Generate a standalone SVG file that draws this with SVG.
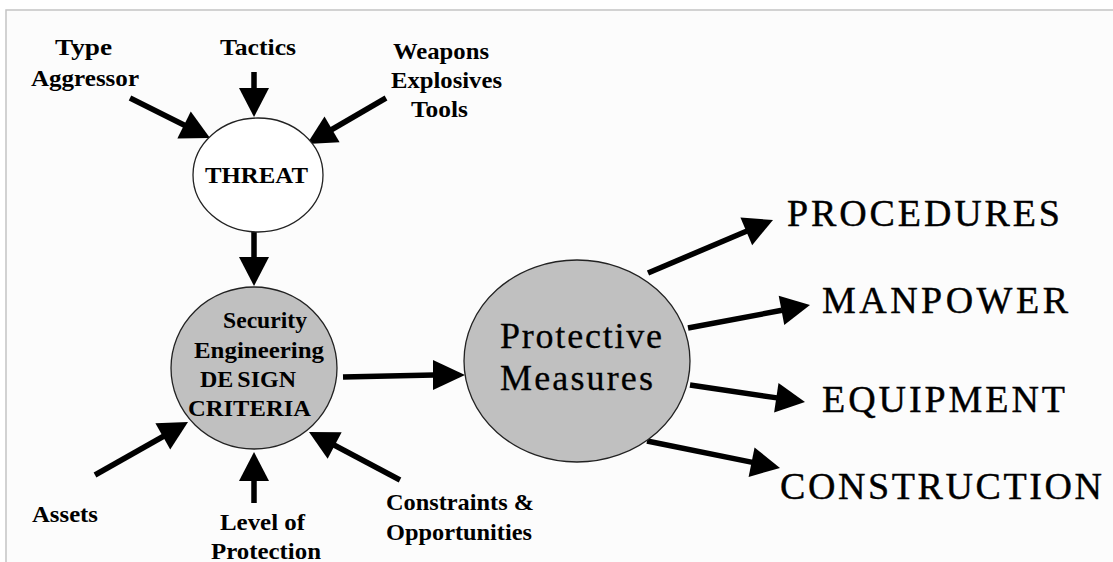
<svg xmlns="http://www.w3.org/2000/svg" width="1113" height="562" viewBox="0 0 1113 562">
<style>
.lbl{font-family:"Liberation Serif","Times New Roman",serif;font-weight:bold;font-size:24px;fill:#000}
.big{font-family:"Liberation Serif","Times New Roman",serif;font-size:38px;fill:#000;stroke:#000;stroke-width:0.4}
.pm{font-family:"Liberation Serif","Times New Roman",serif;font-size:36px;fill:#000;stroke:#000;stroke-width:0.3}
.node{stroke:#222;stroke-width:1.3}
.gray{fill:#c0c0c0}
.white{fill:#fff}
.shaft{stroke:#000;stroke-width:5.5;fill:none}
.head{fill:#000}
</style>
<rect x="0" y="0" width="1113" height="562" fill="#fff"/>
<rect x="6" y="10" width="1107" height="552" fill="#fcfcfc"/>
<path d="M6,562 V10 H1113" fill="none" stroke="#c4c4c4" stroke-width="1.5"/>

<g id="connectors">
  <line class="shaft" x1="130" y1="98" x2="185" y2="125.5"/>
  <polygon class="head" points="210,138 177.35,138.45 190.77,111.61"/>
  <line class="shaft" x1="254" y1="72" x2="254" y2="89"/>
  <polygon class="head" points="254,117 239,88 269,88"/>
  <line class="shaft" x1="386" y1="98" x2="331" y2="130"/>
  <polygon class="head" points="307,144 324.51,116.45 339.61,142.37"/>
  <line class="shaft" x1="254" y1="232" x2="254" y2="258"/>
  <polygon class="head" points="254,286 239,257 269,257"/>
  <line class="shaft" x1="343" y1="377" x2="434" y2="375"/>
  <polygon class="head" points="465,375 433,360 433,390"/>
  <line class="shaft" x1="95" y1="475" x2="164" y2="436"/>
  <polygon class="head" points="188,422 170.23,449.39 155.37,423.33"/>
  <line class="shaft" x1="254" y1="503" x2="254" y2="480"/>
  <polygon class="head" points="254,452 239,481 269,481"/>
  <line class="shaft" x1="400" y1="480" x2="334" y2="445"/>
  <polygon class="head" points="309,432 341.65,432.26 327.65,458.8"/>
  <line class="shaft" x1="648" y1="273" x2="747" y2="231"/>
  <polygon class="head" points="773,220 752.16,245.13 740.44,217.51"/>
  <line class="shaft" x1="688" y1="328" x2="782" y2="310.3"/>
  <polygon class="head" points="810,305 784.28,325.11 778.72,295.63"/>
  <line class="shaft" x1="690" y1="385" x2="777" y2="397.9"/>
  <polygon class="head" points="805,402 774.12,412.6 778.5,382.92"/>
  <line class="shaft" x1="647" y1="441" x2="752.5" y2="462.4"/>
  <polygon class="head" points="780,468 748.59,476.93 754.57,447.53"/>
</g>

<g id="threat">
  <ellipse class="node white" cx="258" cy="175" rx="65" ry="57"/>
  <text class="lbl" x="205" y="183" textLength="103" lengthAdjust="spacingAndGlyphs">THREAT</text>
</g>

<g id="design-criteria">
  <ellipse class="node gray" cx="254" cy="368" rx="83" ry="81"/>
  <text class="lbl" x="223" y="328" textLength="84" lengthAdjust="spacingAndGlyphs">Security</text>
  <text class="lbl" x="194" y="358" textLength="130" lengthAdjust="spacingAndGlyphs">Engineering</text>
  <text class="lbl" x="200" y="387">DE<tspan dx="4">SIGN</tspan></text>
  <text class="lbl" x="188" y="416" textLength="123" lengthAdjust="spacingAndGlyphs">CRITERIA</text>
</g>

<g id="protective-measures">
  <ellipse class="node gray" cx="577" cy="361" rx="113" ry="101"/>
  <text class="pm" x="500" y="348" textLength="162" lengthAdjust="spacing">Protective</text>
  <text class="pm" x="500" y="390" textLength="153" lengthAdjust="spacing">Measures</text>
</g>

<g id="type-aggressor">
  <text class="lbl" x="55" y="55" textLength="57" lengthAdjust="spacingAndGlyphs">Type</text>
  <text class="lbl" x="31" y="86" textLength="108" lengthAdjust="spacingAndGlyphs">Aggressor</text>
</g>
<g id="tactics">
  <text class="lbl" x="220" y="55" textLength="76" lengthAdjust="spacingAndGlyphs">Tactics</text>
</g>
<g id="weapons">
  <text class="lbl" x="393" y="59" textLength="96" lengthAdjust="spacingAndGlyphs">Weapons</text>
  <text class="lbl" x="391" y="88" textLength="111" lengthAdjust="spacingAndGlyphs">Explosives</text>
  <text class="lbl" x="411" y="117" textLength="57" lengthAdjust="spacingAndGlyphs">Tools</text>
</g>
<g id="assets">
  <text class="lbl" x="32" y="522" textLength="66" lengthAdjust="spacingAndGlyphs">Assets</text>
</g>
<g id="level-of-protection">
  <text class="lbl" x="220" y="530" textLength="85" lengthAdjust="spacingAndGlyphs">Level of</text>
  <text class="lbl" x="211" y="559" textLength="110" lengthAdjust="spacingAndGlyphs">Protection</text>
</g>
<g id="constraints">
  <text class="lbl" x="386" y="510" textLength="148" lengthAdjust="spacingAndGlyphs">Constraints &amp;</text>
  <text class="lbl" x="386" y="540" textLength="146" lengthAdjust="spacingAndGlyphs">Opportunities</text>
</g>

<g id="procedures">
  <text class="big" x="787" y="226" textLength="273" lengthAdjust="spacing">PROCEDURES</text>
</g>
<g id="manpower">
  <text class="big" x="822" y="313" textLength="246" lengthAdjust="spacing">MANPOWER</text>
</g>
<g id="equipment">
  <text class="big" x="822" y="412" textLength="243" lengthAdjust="spacing">EQUIPMENT</text>
</g>
<g id="construction">
  <text class="big" x="780" y="499" textLength="322" lengthAdjust="spacing">CONSTRUCTION</text>
</g>
</svg>
